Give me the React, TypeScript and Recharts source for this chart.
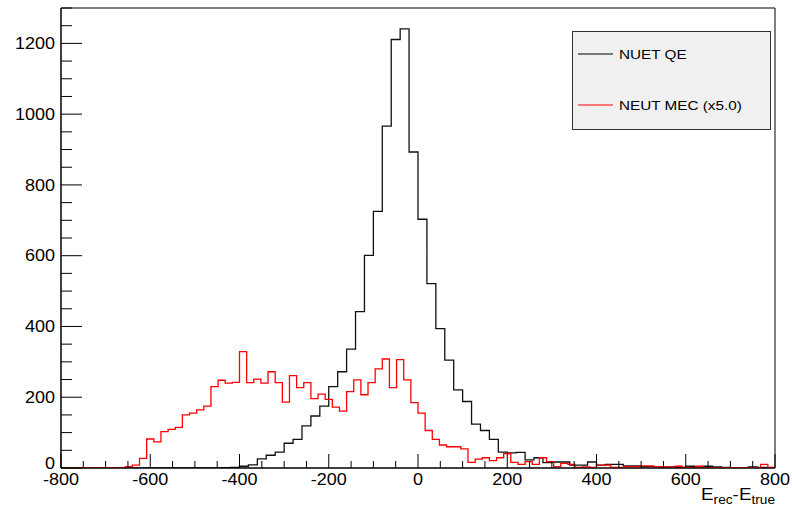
import { LineChart, Line, XAxis, YAxis, ReferenceArea } from "recharts";

const BIN_LO = -800;
const BIN_HI = 800;

// NUET QE, 80 bins of 20 from -800 to 800
const qeCounts = [
  0, 0, 0, 0, 0, 0, 0, 0, 0, 0, 0, 0, 0, 0, 0, 0, 0, 0, 1, 2,
  5, 9, 26, 36, 45, 70, 81, 119, 147, 175, 230, 272, 336, 442, 601, 725, 966, 1211, 1241, 893,
  703, 521, 394, 305, 221, 188, 124, 106, 81, 45, 43, 44, 23, 29, 15, 17, 17, 8, 8, 17,
  8, 10, 10, 6, 6, 4, 4, 3, 3, 2, 5, 3, 5, 3, 2, 1, 1, 3, 2, 1,
];

// NEUT MEC (already x5), 100 bins of 16 from -800 to 800
const mecCounts = [
  0, 0, 0, 0, 0, 0, 0, 0, 0, 4, 8, 27, 82, 74, 103, 109, 115, 150, 155, 164,
  175, 230, 248, 240, 242, 329, 241, 251, 240, 272, 241, 186, 261, 227, 241, 196, 209, 194, 172, 161,
  216, 249, 207, 241, 280, 308, 227, 306, 249, 185, 155, 106, 81, 65, 60, 60, 54, 16, 25, 29,
  21, 29, 41, 16, 10, 18, 10, 29, 18, 4, 13, 10, 2, 3, 2, 8, 8, 2, 2, 4,
  4, 6, 6, 4, 4, 2, 5, 2, 1, 5, 1, 0, 0, 1, 0, 0, 0, 1, 10, 2,
];

const xLabels = [-800, -600, -400, -200, 0, 200, 400, 600, 800];
const yLabels = [0, 200, 400, 600, 800, 1000, 1200];
const legendNames = ["NUET QE", "NEUT MEC (x5.0)"];

const Y_MAX = 1300;
const SX = 1.14; // the reference text is a bit stretched sideways
const FONT = "'Liberation Sans', Arial, sans-serif";

const toSteps = (counts: number[]) => {
  const w = (BIN_HI - BIN_LO) / counts.length;
  const pts = counts.map((c, i) => ({ x: BIN_LO + i * w, y: c }));
  pts.push({ x: BIN_HI, y: counts[counts.length - 1] });
  return pts;
};

const qeData = toSteps(qeCounts);
const mecData = toSteps(mecCounts);

const xTicks: number[] = [];
for (let v = BIN_LO; v <= BIN_HI; v += 50) xTicks.push(v);
const yTicks: number[] = [];
for (let v = 0; v <= Y_MAX; v += 50) yTicks.push(v);

const RootText = ({ x, y, size, anchor, children }: any) => (
  <text
    transform={`translate(${x},${y}) scale(${SX},1)`}
    fontSize={size}
    fontFamily={FONT}
    textAnchor={anchor}
    fill="#000"
  >
    {children}
  </text>
);

const XTick = (props: any) => {
  const { x, y, payload } = props;
  const major = xLabels.includes(payload.value);
  return (
    <g>
      <line x1={x} x2={x} y1={y} y2={y - (major ? 14 : 7)} stroke="#000" />
      {major && (
        <RootText x={x} y={y + 16.5} size={15.8} anchor="middle">
          {payload.value}
        </RootText>
      )}
    </g>
  );
};

const YTick = (props: any) => {
  const { x, y, payload } = props;
  const major = yLabels.includes(payload.value);
  // the zero label sits a little higher so it clears the x label below it
  const ty = payload.value === 0 ? y + 1 : y + 5.6;
  return (
    <g>
      <line x1={x} x2={x + (major ? 21 : 11)} y1={y} y2={y} stroke="#000" />
      {major && (
        <RootText x={x - 6} y={ty} size={15.8} anchor="end">
          {payload.value}
        </RootText>
      )}
    </g>
  );
};

export default function App() {
  return (
    <div style={{ position: "absolute", left: 0, top: 0, width: 792, height: 511, background: "#fff" }}>
      <LineChart width={792} height={511} margin={{ top: 8, right: 17, bottom: 0, left: 0 }}>
        <XAxis
          dataKey="x"
          type="number"
          domain={[BIN_LO, BIN_HI]}
          ticks={xTicks}
          interval={0}
          tickSize={0}
          tickMargin={0}
          tickLine={false}
          tick={<XTick />}
          height={43}
          axisLine={{ stroke: "#000" }}
          allowDataOverflow
        />
        <YAxis
          type="number"
          domain={[0, Y_MAX]}
          ticks={yTicks}
          interval={0}
          tickSize={0}
          tickMargin={0}
          tickLine={false}
          tick={<YTick />}
          width={61}
          axisLine={{ stroke: "#000" }}
          allowDataOverflow
        />
        <ReferenceArea x1={BIN_LO} x2={BIN_HI} y1={0} y2={Y_MAX} fill="none" stroke="#000" strokeWidth={1} />
        <Line
          data={qeData}
          dataKey="y"
          type="stepAfter"
          stroke="#111"
          strokeWidth={1.3}
          dot={false}
          isAnimationActive={false}
        />
        <Line
          data={mecData}
          dataKey="y"
          type="stepAfter"
          stroke="#ff0000"
          strokeWidth={1.3}
          dot={false}
          isAnimationActive={false}
        />

        {/* legend box */}
        <rect x={572.5} y={31.5} width={198} height={98} fill="#f0f0f0" stroke="#333" strokeWidth={1} />
        <line x1={578} x2={613} y1={54} y2={54} stroke="#000" strokeWidth={1.2} />
        <RootText x={619} y={58.7} size={13.4} anchor="start">
          {legendNames[0]}
        </RootText>
        <line x1={578} x2={613} y1={105} y2={105} stroke="#ff0000" strokeWidth={1.2} />
        <RootText x={619} y={109.7} size={13.4} anchor="start">
          {legendNames[1]}
        </RootText>

        {/* axis title */}
        <text
          transform={`translate(775,500) scale(${SX},1)`}
          fontFamily={FONT}
          fontSize={16.5}
          textAnchor="end"
          fill="#000"
        >
          E
          <tspan fontSize={12} dy={3.5}>rec</tspan>
          <tspan dy={-3.5}>-E</tspan>
          <tspan fontSize={12} dy={3.5}>true</tspan>
        </text>
      </LineChart>
    </div>
  );
}
